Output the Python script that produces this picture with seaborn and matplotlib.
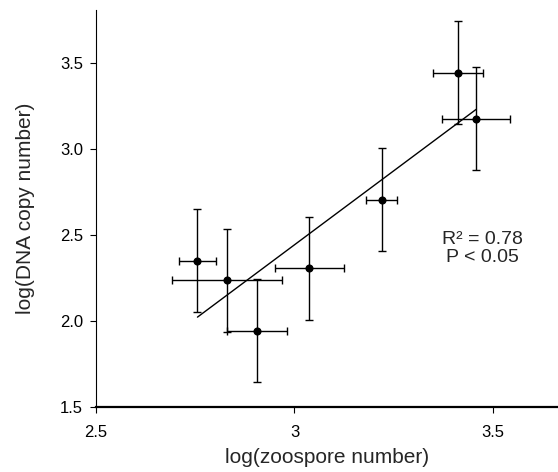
import numpy as np
import pandas as pd
import seaborn as sns
import matplotlib
matplotlib.use("Agg")
import matplotlib.pyplot as plt

# values
zoospore_log = [2.756, 2.831, 2.905, 3.037, 3.219, 3.411, 3.457]
dna_log = [2.351, 2.235, 1.941, 2.307, 2.705, 3.444, 3.176]
x_err = [0.046, 0.138, 0.075, 0.087, 0.039, 0.063, 0.085]
y_err = [0.30, 0.30, 0.30, 0.30, 0.30, 0.30, 0.30]

x_ticks = [2.5, 3, 3.5]
x_tick_labels = ["2.5", "3", "3.5"]
y_ticks = [1.5, 2.0, 2.5, 3.0, 3.5]
y_tick_labels = ["1.5", "2.0", "2.5", "3.0", "3.5"]

df = pd.DataFrame({"zoospore": zoospore_log, "dna": dna_log,
                   "xerr": x_err, "yerr": y_err})

sns.set_style("white")
plt.rcParams['font.family'] = ['Liberation Sans', 'DejaVu Sans']

fig = plt.figure(figsize=(5.58, 4.72), dpi=100)
ax = fig.add_axes([0.1715, 0.1384, 0.8285, 0.8406])

# error bars
ax.errorbar(df["zoospore"], df["dna"], xerr=df["xerr"], yerr=df["yerr"],
            fmt="none", ecolor="black", elinewidth=1, capsize=3, capthick=1,
            zorder=2)
# points
sns.scatterplot(data=df, x="zoospore", y="dna", color="black", s=34,
                edgecolor="black", linewidth=0, ax=ax, zorder=3)
# fitted line
sns.regplot(data=df, x="zoospore", y="dna", ci=None, scatter=False,
            truncate=True, line_kws=dict(color="black", lw=1), ax=ax)

ax.set_xlim(2.5, 3.663)
ax.set_ylim(1.5, 3.81)
ax.set_xticks(x_ticks)
ax.set_xticklabels(x_tick_labels)
ax.set_yticks(y_ticks)
ax.set_yticklabels(y_tick_labels)

ax.set_xlabel("log(zoospore number)", fontsize=15, labelpad=6)
ax.set_ylabel("log(DNA copy number)", fontsize=15, labelpad=18)
ax.tick_params(axis="both", labelsize=12, length=4, width=0.8,
               direction="out", colors="black", bottom=True, left=True)
ax.tick_params(axis="x", pad=9)
ax.tick_params(axis="y", pad=5)

sns.despine(ax=ax)
ax.spines["left"].set_linewidth(0.8)
ax.spines["bottom"].set_linewidth(1.6)
ax.spines["left"].set_color("black")
ax.spines["bottom"].set_color("black")

ax.text(3.474, 2.42, "R\u00b2 = 0.78\nP < 0.05", ha="center", va="center",
        fontsize=14, linespacing=1.1)

fig.savefig("out.png", dpi=100)
